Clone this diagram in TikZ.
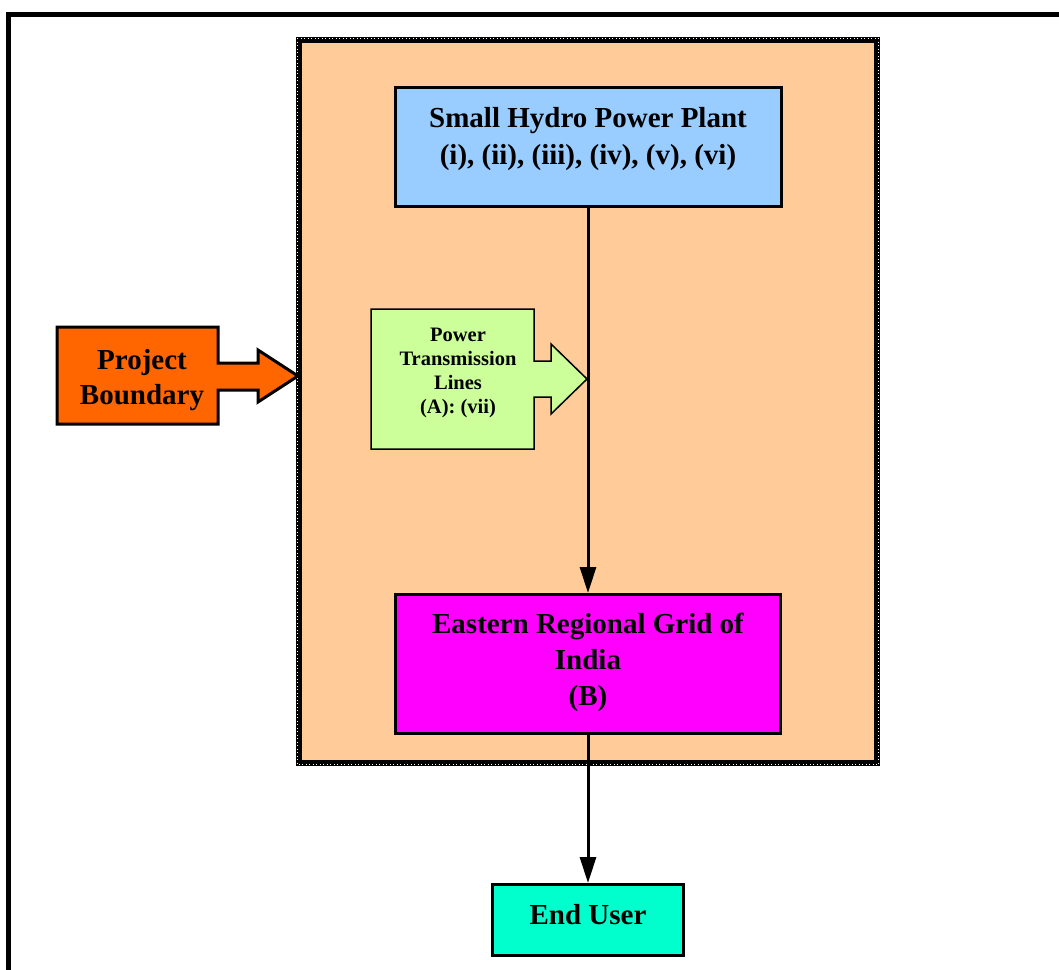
\documentclass[tikz,border=0pt]{standalone}
\usepackage{fontspec}
\setmainfont{Liberation Serif}
\usetikzlibrary{arrows.meta}
\definecolor{peach}{HTML}{FFCC99}
\definecolor{skyb}{HTML}{99CCFF}
\definecolor{lgreen}{HTML}{CCFF99}
\definecolor{orng}{HTML}{FF6600}
\definecolor{magn}{HTML}{FF00FF}
\definecolor{aqua}{HTML}{00FFCC}
\begin{document}
\begin{tikzpicture}[x=1pt,y=-1pt,
  boxst/.style={draw=black,line width=3pt,inner sep=0pt},
  bigtxt/.style={font=\fontsize{29}{36}\selectfont\bfseries,align=center,inner sep=0pt},
  smalltxt/.style={font=\fontsize{20.5}{24}\selectfont\bfseries,align=center,inner sep=0pt},
  arr/.style={line width=3pt,-{Triangle[length=26pt,width=16pt]}}]
\useasboundingbox (0,0) rectangle (1059,969);
\clip (0,0) rectangle (1059,969);
% outer frame (cut by the page)
\draw[line width=5pt] (8.5,1100) -- (8.5,14.5) -- (1100,14.5);
% project boundary area
\node[draw=black,fill=peach,line width=6pt,minimum width=578pt,minimum height=723pt,inner sep=0pt] (pb) at (588,401.5) {};
\draw[white,line width=0.9pt,dash pattern=on 1pt off 2.5pt] (297.3,38.3) rectangle (878.7,764.7);
% boxes
\node[boxst,fill=skyb,minimum width=386pt,minimum height=119pt] (hydro) at (588,147) {};
\node[bigtxt,font=\fontsize{29}{37}\selectfont\bfseries] (hydrotxt) at (588,139) {Small Hydro Power Plant\\(i), (ii), (iii), (iv), (v), (vi)};
\node[boxst,fill=magn,minimum width=385pt,minimum height=139pt] (grid) at (588,664) {};
\node[bigtxt] (gridtxt) at (588,662) {Eastern Regional Grid of\\India\\(B)};
\node[boxst,fill=aqua,minimum width=191pt,minimum height=71pt] (user) at (588,920) {};
\node[bigtxt] (usertxt) at (588,915) {End User};
% transmission lines callout
\draw[fill=lgreen,line width=1.5pt,line join=miter] (371,309) -- (534,309) -- (534,361) -- (551,361) -- (551,344) -- (587,379) -- (551,414) -- (551,397) -- (534,397) -- (534,449) -- (371,449) -- cycle;
\node[smalltxt] (ptl) at (458,372.5) {Power\\Transmission\\Lines\\(A): (vii)};
% project boundary callout
\draw[fill=orng,line width=3pt,line join=miter] (57,327) -- (218,327) -- (218,363) -- (258,363) -- (258,350) -- (298,376) -- (258,402) -- (258,390) -- (218,390) -- (218,424) -- (57,424) -- cycle;
\node[bigtxt,font=\fontsize{29}{35}\selectfont\bfseries] (pbtxt) at (142,380.5) {Project\\Boundary};
% connectors
\draw[arr] (hydro.south) -- (grid.north);
\draw[arr] (grid.south) -- (user.north);
\end{tikzpicture}
\end{document}
